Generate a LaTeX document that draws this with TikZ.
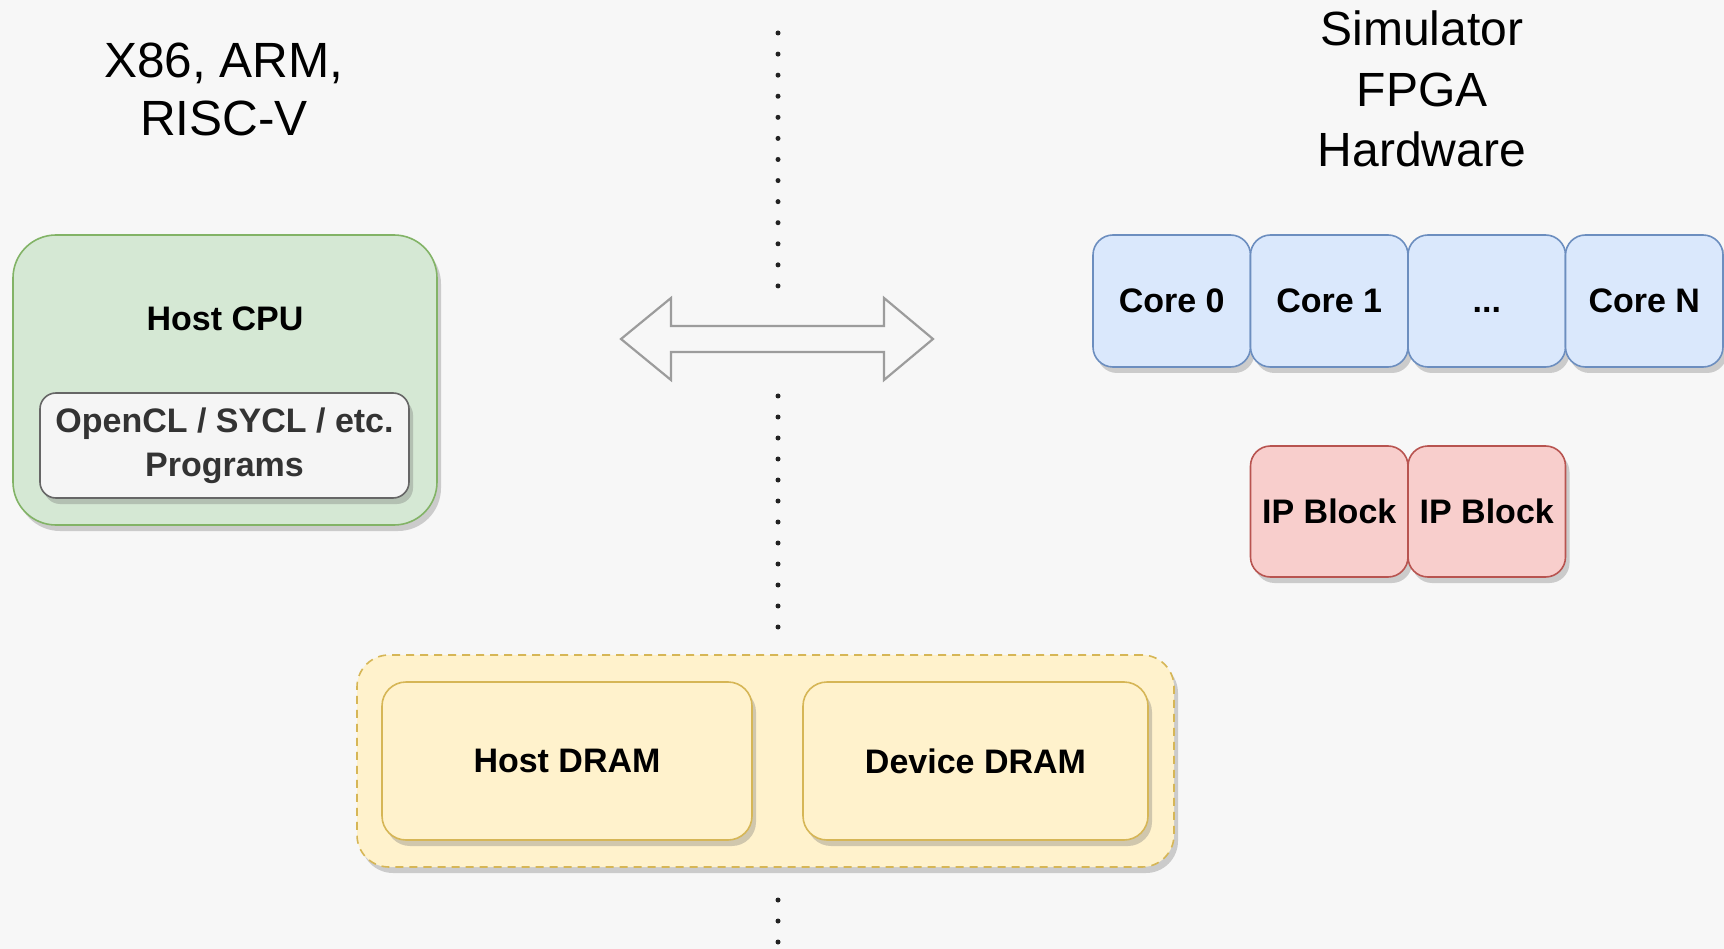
\documentclass[tikz,border=0pt]{standalone}
\usepackage{fontspec}
\setmainfont{Liberation Sans}
\usetikzlibrary{shadows}

\definecolor{bgcol}{HTML}{F7F7F7}
\definecolor{greenfill}{HTML}{D5E8D4}
\definecolor{greenline}{HTML}{82B366}
\definecolor{greyfill}{HTML}{F5F5F5}
\definecolor{greyline}{HTML}{666666}
\definecolor{greytext}{HTML}{333333}
\definecolor{bluefill}{HTML}{DAE8FC}
\definecolor{blueline}{HTML}{6C8EBF}
\definecolor{redfill}{HTML}{F8CECC}
\definecolor{redline}{HTML}{B85450}
\definecolor{yellowfill}{HTML}{FFF2CC}
\definecolor{yellowline}{HTML}{D6B656}
\definecolor{arrowline}{HTML}{9C9C9C}
\definecolor{dotcol}{HTML}{222222}

\newcommand{\boxfont}{\fontsize{34}{44}\selectfont\bfseries}
\newcommand{\titlefont}{\fontsize{48}{58}\selectfont}

\tikzset{
  blk/.style={rectangle, draw, line width=1.6pt, align=center,
    inner sep=0pt, font=\boxfont,
    drop shadow={shadow xshift=4pt, shadow yshift=-6pt, fill=black!60, opacity=0.3}},
  cpubox/.style={blk, fill=greenfill, draw=greenline, rounded corners=43pt},
  progbox/.style={blk, fill=greyfill, draw=greyline, text=greytext, rounded corners=16pt},
  corebox/.style={blk, fill=bluefill, draw=blueline, rounded corners=20pt,
    minimum width=157.5pt, minimum height=132pt},
  ipbox/.style={blk, fill=redfill, draw=redline, rounded corners=20pt,
    minimum width=157.5pt, minimum height=131pt},
  memgroup/.style={blk, fill=yellowfill, draw=yellowline, dash pattern=on 8pt off 6pt,
    rounded corners=32pt},
  drambox/.style={blk, fill=yellowfill, draw=yellowline, rounded corners=24pt,
    minimum height=158pt},
  title/.style={align=center, font=\titlefont, inner sep=0pt},
  sepdot/.style={fill=dotcol, draw=none, circle, minimum size=5pt, inner sep=0pt},
  linkarrow/.style={draw=arrowline, fill=bgcol, line width=2.2pt, line join=miter},
}

\begin{document}
\begin{tikzpicture}[x=1pt, y=-1pt]
  % canvas
  \fill[bgcol] (0,0) rectangle (1724,949);
  \useasboundingbox (0,0) rectangle (1724,949);

  % vertical separator between host and device side
  \foreach \k in {0,...,12} \node[sepdot] at (778, 33+21.08*\k) {};
  \foreach \k in {0,...,11} \node[sepdot] at (778, 396+21*\k) {};
  \foreach \k in {0,...,2}  \node[sepdot] at (778, 900+21*\k) {};

  % headings
  \node[title, font=\fontsize{49.5}{58}\selectfont] (hosttitle) at (224, 89.5) {X86, ARM,\\RISC-V};
  \node[title] (devtitle) at (1422, 89) {Simulator\\[2.5pt]FPGA\\[2.5pt]Hardware};

  % host side
  \node[cpubox, minimum width=424pt, minimum height=290pt] (cpu) at (225, 380) {};
  \node[font=\boxfont, inner sep=0pt] (cpulabel) at (225, 319) {Host CPU};
  \node[progbox, minimum width=369pt, minimum height=105pt] (prog) at (224.5, 445.5)
    {OpenCL / SYCL / etc.\\Programs};

  % host <-> device link
  \draw[linkarrow] (621,339) -- (671,298) -- (671,326) -- (884,326) -- (884,298)
    -- (933,339) -- (884,380) -- (884,352) -- (671,352) -- (671,380) -- cycle;

  % device cores
  \node[corebox] (core0) at (1171.75, 301) {Core 0};
  \node[corebox] (core1) at (1329.25, 301) {Core 1};
  \node[corebox] (coredots) at (1486.75, 301) {\vphantom{C}...};
  \node[corebox] (coreN) at (1644.25, 301) {Core N};

  % fixed-function blocks
  \node[ipbox] (ip1) at (1329.25, 511.5) {IP Block};
  \node[ipbox] (ip2) at (1486.75, 511.5) {IP Block};

  % memories
  \node[memgroup, minimum width=817pt, minimum height=212pt] (mem) at (765.5, 761) {};
  \node[drambox, minimum width=370pt] (hostdram) at (567, 761) {Host DRAM};
  \node[drambox, minimum width=345pt] (devdram) at (975.5, 761) {Device DRAM};
\end{tikzpicture}
\end{document}
